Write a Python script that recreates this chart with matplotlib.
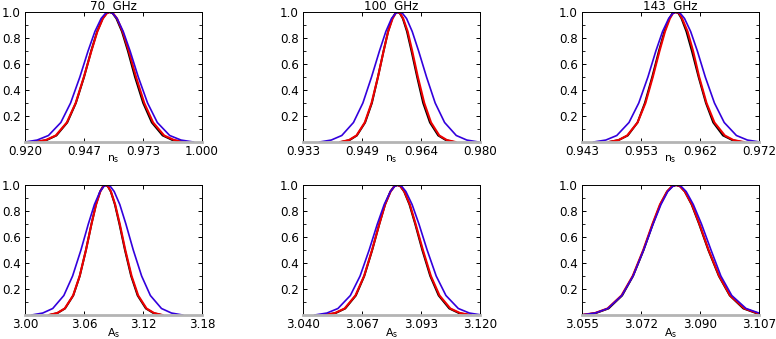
import numpy as np
from matplotlib import pyplot as plt
from matplotlib.ticker import MultipleLocator

# curve heights shared by every curve: rise to the peak, then fall back
y_levels = [0.0, 0.015, 0.05, 0.15, 0.3, 0.5, 0.7, 0.85, 0.95, 0.99, 1.0,
            0.99, 0.95, 0.85, 0.7, 0.5, 0.3, 0.15, 0.05, 0.015, 0.0]

# x positions where each curve crosses the levels above
ns70_black = [0.9249, 0.9298, 0.9342, 0.9391, 0.9430, 0.9467, 0.9499, 0.9526, 0.9551, 0.9568, 0.9582,
              0.9596, 0.9613, 0.9638, 0.9665, 0.9697, 0.9734, 0.9773, 0.9822, 0.9866, 0.9915]
ns70_red = [0.9244, 0.9294, 0.9339, 0.9389, 0.9429, 0.9466, 0.9500, 0.9527, 0.9552, 0.9570, 0.9584,
            0.9598, 0.9616, 0.9641, 0.9669, 0.9702, 0.9739, 0.9779, 0.9829, 0.9874, 0.9924]
ns70_blue = [0.9202, 0.9255, 0.9306, 0.9362, 0.9406, 0.9448, 0.9485, 0.9516, 0.9544, 0.9564, 0.9580,
             0.9596, 0.9616, 0.9644, 0.9675, 0.9712, 0.9754, 0.9798, 0.9854, 0.9905, 0.9961]

ns100_black = [0.9431, 0.9454, 0.9473, 0.9495, 0.9513, 0.9529, 0.9544, 0.9556, 0.9567, 0.9575, 0.9581,
               0.9587, 0.9595, 0.9606, 0.9618, 0.9633, 0.9649, 0.9667, 0.9689, 0.9709, 0.9731]
ns100_red = [0.9429, 0.9452, 0.9472, 0.9494, 0.9512, 0.9529, 0.9544, 0.9556, 0.9568, 0.9576, 0.9582,
             0.9588, 0.9596, 0.9608, 0.9620, 0.9635, 0.9652, 0.9670, 0.9692, 0.9712, 0.9735]
ns100_blue = [0.9374, 0.9405, 0.9433, 0.9464, 0.9489, 0.9512, 0.9533, 0.9550, 0.9565, 0.9576, 0.9585,
              0.9594, 0.9605, 0.9620, 0.9637, 0.9658, 0.9681, 0.9706, 0.9737, 0.9765, 0.9796]

ns143_black = [0.9474, 0.9490, 0.9505, 0.9521, 0.9533, 0.9545, 0.9556, 0.9565, 0.9573, 0.9578, 0.9583,
               0.9588, 0.9593, 0.9601, 0.9610, 0.9621, 0.9633, 0.9645, 0.9661, 0.9676, 0.9692]
ns143_red = [0.9474, 0.9490, 0.9504, 0.9521, 0.9534, 0.9546, 0.9557, 0.9566, 0.9574, 0.9579, 0.9584,
             0.9589, 0.9594, 0.9603, 0.9612, 0.9622, 0.9634, 0.9647, 0.9664, 0.9678, 0.9695]
ns143_blue = [0.9449, 0.9469, 0.9487, 0.9507, 0.9523, 0.9538, 0.9551, 0.9562, 0.9572, 0.9579, 0.9585,
              0.9591, 0.9598, 0.9608, 0.9619, 0.9632, 0.9647, 0.9663, 0.9683, 0.9701, 0.9721]

As70_black = [3.0247, 3.0331, 3.0407, 3.0491, 3.0557, 3.0620, 3.0676, 3.0722, 3.0764, 3.0794, 3.0818,
              3.0842, 3.0872, 3.0914, 3.0960, 3.1016, 3.1079, 3.1145, 3.1229, 3.1305, 3.1389]
As70_red = [3.0242, 3.0327, 3.0404, 3.0489, 3.0556, 3.0620, 3.0676, 3.0723, 3.0766, 3.0796, 3.0820,
            3.0844, 3.0874, 3.0917, 3.0964, 3.1020, 3.1084, 3.1151, 3.1236, 3.1313, 3.1398]
As70_blue = [3.0067, 3.0180, 3.0282, 3.0395, 3.0484, 3.0569, 3.0644, 3.0706, 3.0763, 3.0803, 3.0835,
             3.0867, 3.0907, 3.0964, 3.1026, 3.1101, 3.1186, 3.1275, 3.1388, 3.1490, 3.1603]

As100_black = [3.0500, 3.0548, 3.0591, 3.0639, 3.0677, 3.0713, 3.0745, 3.0771, 3.0795, 3.0812, 3.0826,
               3.0840, 3.0857, 3.0881, 3.0907, 3.0939, 3.0975, 3.1013, 3.1061, 3.1104, 3.1152]
As100_red = [3.0496, 3.0544, 3.0588, 3.0637, 3.0676, 3.0712, 3.0745, 3.0771, 3.0796, 3.0813, 3.0827,
             3.0841, 3.0858, 3.0883, 3.0909, 3.0942, 3.0978, 3.1017, 3.1066, 3.1110, 3.1159]
As100_blue = [3.0453, 3.0508, 3.0558, 3.0614, 3.0658, 3.0699, 3.0736, 3.0767, 3.0795, 3.0814, 3.0830,
              3.0846, 3.0865, 3.0893, 3.0924, 3.0961, 3.1002, 3.1046, 3.1102, 3.1152, 3.1207]

As143_black = [3.0551, 3.0591, 3.0628, 3.0668, 3.0700, 3.0731, 3.0758, 3.0780, 3.0800, 3.0815, 3.0826,
               3.0838, 3.0852, 3.0872, 3.0894, 3.0921, 3.0952, 3.0984, 3.1024, 3.1061, 3.1101]
As143_red = [3.0547, 3.0588, 3.0625, 3.0666, 3.0699, 3.0730, 3.0757, 3.0779, 3.0800, 3.0814, 3.0826,
             3.0838, 3.0852, 3.0873, 3.0895, 3.0922, 3.0953, 3.0985, 3.1027, 3.1064, 3.1105]
As143_blue = [3.0547, 3.0589, 3.0626, 3.0667, 3.0700, 3.0731, 3.0759, 3.0782, 3.0802, 3.0817, 3.0829,
              3.0841, 3.0856, 3.0877, 3.0901, 3.0929, 3.0958, 3.0990, 3.1032, 3.1070, 3.1111]

titles = ["70  GHz", "100  GHz", "143  GHz"]
xlabels = [r"n$_\mathrm{s}$", r"A$_\mathrm{s}$"]

x_ranges = [(0.920, 1.000), (0.933, 0.980), (0.943, 0.972),
            (3.00, 3.18), (3.040, 3.120), (3.055, 3.107)]
x_ticklabels = [["0.920", "0.947", "0.973", "1.000"],
                ["0.933", "0.949", "0.964", "0.980"],
                ["0.943", "0.953", "0.962", "0.972"],
                ["3.00", "3.06", "3.12", "3.18"],
                ["3.040", "3.067", "3.093", "3.120"],
                ["3.055", "3.072", "3.090", "3.107"]]

curves = [(ns70_black, ns70_red, ns70_blue),
          (ns100_black, ns100_red, ns100_blue),
          (ns143_black, ns143_red, ns143_blue),
          (As70_black, As70_red, As70_blue),
          (As100_black, As100_red, As100_blue),
          (As143_black, As143_red, As143_blue)]

plt.rcParams['font.family'] = ['DejaVu Sans']
plt.rcParams['font.size'] = 8.6

W, H = 776, 339
fig = plt.figure(figsize=(W / 100, H / 100), dpi=100)

col_left = [25, 303, 582]
row_top = [12, 185]
ax_w, ax_h = 177, 130

for i in range(6):
    r, c = divmod(i, 3)
    ax = fig.add_axes([col_left[c] / W, (H - row_top[r] - ax_h) / H, ax_w / W, ax_h / H])
    black, red, blue = curves[i]
    ax.plot(black, y_levels, color='black', lw=1.4)
    ax.plot(red, y_levels, color='#ee0000', lw=1.5)
    ax.plot(blue, y_levels, color='#3300dd', lw=1.2)

    lo, hi = x_ranges[i]
    ax.set_xlim(lo, hi)
    ax.set_ylim(0, 1.0)
    ax.set_xticks(np.linspace(lo, hi, 4))
    ax.set_xticklabels(x_ticklabels[i])
    ax.set_yticks([0.2, 0.4, 0.6, 0.8, 1.0])
    ax.set_yticklabels(["0.2", "0.4", "0.6", "0.8", "1.0"])
    ax.yaxis.set_minor_locator(MultipleLocator(0.1))
    ax.tick_params(which='major', direction='in', length=3, width=0.7,
                   top=True, right=True, pad=3)
    ax.tick_params(axis='x', pad=2.5)
    ax.tick_params(which='minor', direction='in', length=2, width=0.6,
                   left=True, right=True)
    for s in ['left', 'right', 'top']:
        ax.spines[s].set_linewidth(0.7)
    ax.spines['bottom'].set_color('#b4b4b4')
    ax.spines['bottom'].set_linewidth(2.0)

    ax.set_xlabel(xlabels[r], labelpad=-4, fontsize=7.8)
    if r == 0:
        ax.set_title(titles[c], pad=1.5, fontsize=8.6)

fig.savefig("out.png", dpi=100)
